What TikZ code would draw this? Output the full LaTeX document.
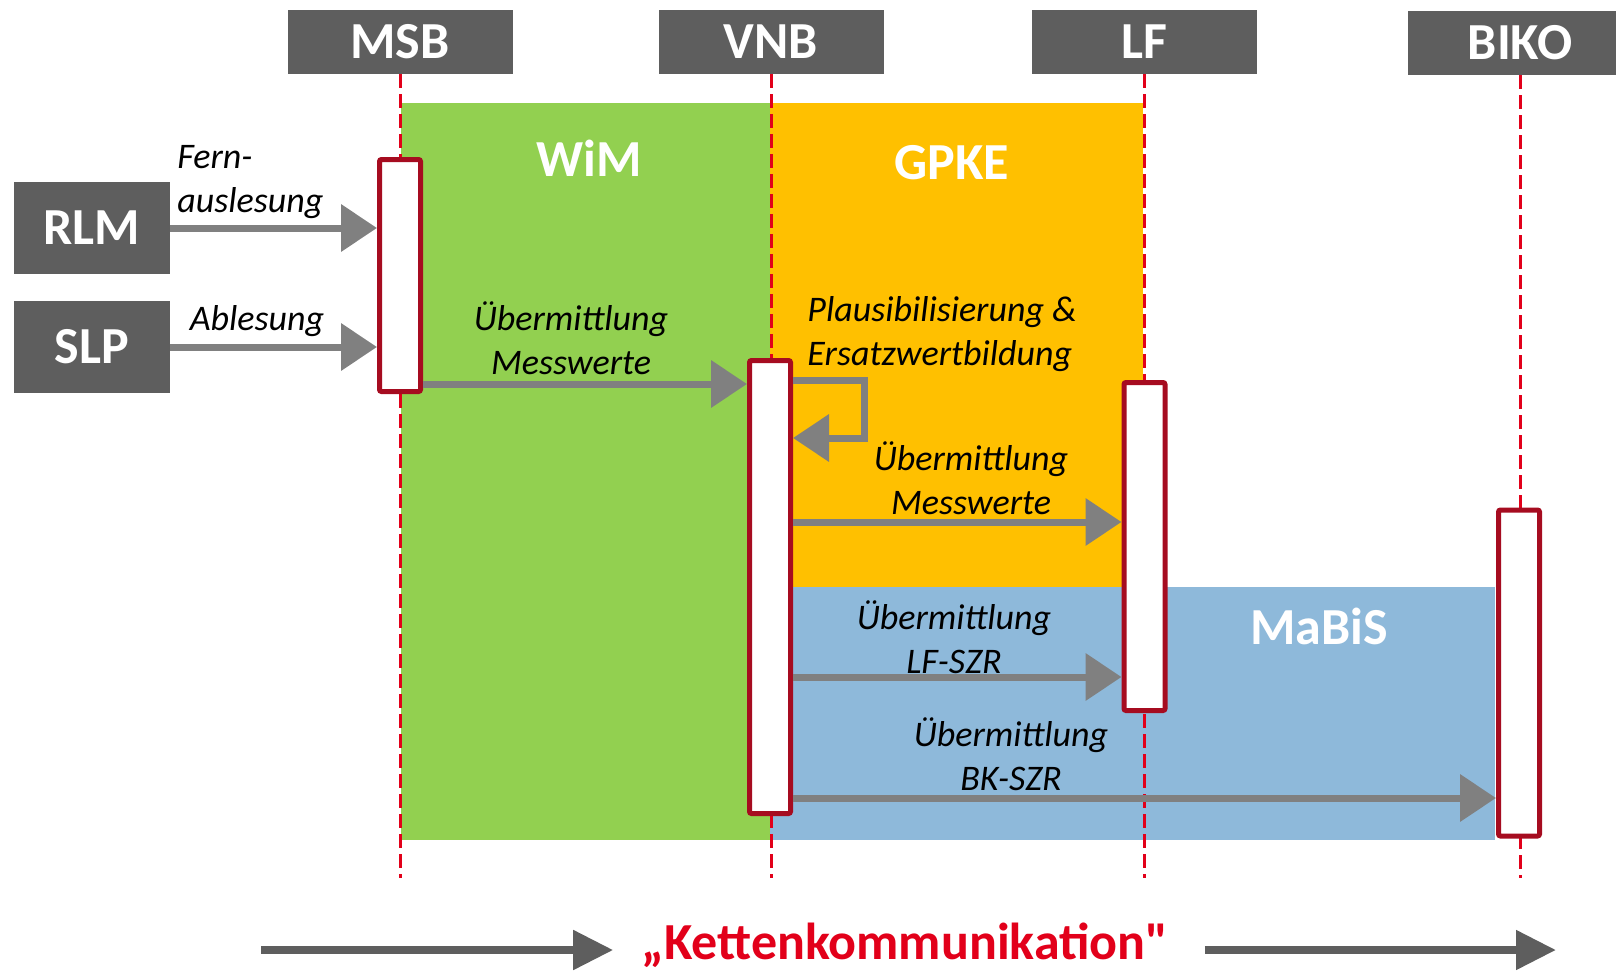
\documentclass[tikz,border=0pt]{standalone}
\usepackage{fontspec}
\setmainfont{Carlito}
\usepackage{tikz}
\usetikzlibrary{arrows.meta}
\definecolor{headgray}{RGB}{94,94,94}
\definecolor{arrowgray}{RGB}{128,128,128}
\definecolor{wimgreen}{RGB}{146,208,80}
\definecolor{gpkeorange}{RGB}{255,192,0}
\definecolor{mabisblue}{RGB}{142,185,218}
\definecolor{actred}{RGB}{166,12,32}
\definecolor{lifered}{RGB}{226,0,26}
\newcommand*\bigbold{\bfseries\fontsize{26}{30}\selectfont}

\begin{document}
\begin{tikzpicture}[x=0.5pt,y=-0.5pt,
		role/.style={fill=headgray,text=white,font=\bigbold,minimum width=112.5pt,minimum height=32pt,inner sep=0pt},
		meter/.style={role,minimum width=78pt,minimum height=46pt},
		zone/.style={text=white,font=\bigbold},
		act/.style={draw=actred,fill=white,line width=2.5pt,rounded corners=1pt,minimum width=20.5pt,inner sep=0pt},
		life/.style={draw=lifered,line width=1.5pt,dash pattern=on 7pt off 3pt},
		msg/.style={draw=arrowgray,line width=3.5pt,-{Triangle[length=18pt,width=23pt]}},
		lbl/.style={font=\itshape\fontsize{18}{22}\selectfont,align=center,inner sep=0pt},
		chain/.style={draw=headgray,line width=4pt,-{Triangle[length=20pt,width=19pt]}}]
		\useasboundingbox (0,0) rectangle (1616,974);
		\fill[wimgreen] (401,103) rectangle (770,840);
		\fill[gpkeorange] (770,103) rectangle (1143,587);
		\fill[mabisblue] (770,587) rectangle (1495,840);
		\node[zone] (wim) at (589,158) {WiM};
		\node[zone] (gpke) at (952,163) {GPKE};
		\node[zone] (mabis) at (1319,626) {MaBiS};

		\node[role] (msb) at (400,42) {MSB};
		\node[role] (vnb) at (771,42) {VNB};
		\node[role] (lf) at (1144,42) {LF};
		\node[role] (biko) at (1520,43) {BIKO};
		\foreach \n in {msb,vnb,lf,biko}
			\draw[life] (\n.south) -- (\n.south |- 0,878);

		\node[meter] (rlm) at (92,228) {RLM};
		\node[meter] (slp) at (92,347) {SLP};

		\node[act,minimum height=116pt] (msbact) at (400,275.5) {};
		\node[act,minimum height=226.5pt] (vnbact) at (770,587) {};
		\node[act,minimum height=164pt] (lfact) at (1144.5,546.5) {};
		\node[act,minimum height=163pt] (bikoact) at (1519,673) {};

		\draw[msg] (rlm) -- (rlm -| msbact.west);
		\draw[msg] (slp) -- (slp -| msbact.west);
		\draw[msg] (msbact.east |- 0,384) -- (vnbact.west |- 0,384);
		\draw[msg] (vnbact.east |- 0,380) -- (864,380) -- (864,438) -- (vnbact.east |- 0,438);
		\draw[msg] (vnbact.east |- 0,522) -- (lfact.west |- 0,522);
		\draw[msg] (vnbact.east |- 0,677) -- (lfact.west |- 0,677);
		\draw[msg] (vnbact.east |- 0,798) -- (bikoact.west |- 0,798);

		\node[lbl,align=left,anchor=west] (fern) at (177,182) {Fern-\\auslesung};
		\node[lbl] (able) at (257,321) {Ablesung};
		\node[lbl] (msbvnb) at (571,338) {Übermittlung\\Messwerte};
		\node[lbl,align=left,anchor=west] (plausi) at (807,334) {Plausibilisierung \&\\Ersatzwertbildung};
		\node[lbl] (vnblf) at (971,478) {Übermittlung\\Messwerte};
		\node[lbl] (lfszr) at (954,637) {Übermittlung\\LF-SZR};
		\node[lbl] (bkszr) at (1011,754) {Übermittlung\\BK-SZR};

		\node[font=\bigbold\addfontfeatures{Ligatures=TeXOff},text=lifered,inner sep=0pt] (kette) at (905,945) {„Kettenkommunikation"};
		\coordinate (chainl) at (261,950);
		\coordinate (chainr) at (1556,950);
		\draw[chain,shorten >=14pt] (chainl) -- (chainl -| kette.west);
		\draw[chain,shorten <=18pt] (kette.east |- chainr) -- (chainr);
\end{tikzpicture}
\end{document}
